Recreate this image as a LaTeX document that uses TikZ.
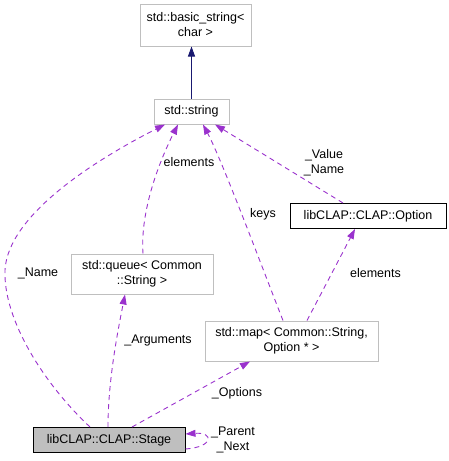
\documentclass[tikz,border=0pt]{standalone}
\usepackage{fontspec}
\setmainfont{Liberation Sans}
\usepackage{tikz}
\usetikzlibrary{positioning, arrows.meta}

\definecolor{grey75}{HTML}{BFBFBF}
\definecolor{orchid}{HTML}{9A32CD}
\definecolor{midnight}{HTML}{191970}

\begin{document}
\begin{tikzpicture}[x=1pt, y=-1pt,
			every node/.style={font=\fontsize{12.5}{15}\selectfont, inner sep=0pt, align=center},
			cls/.style={draw=grey75, line width=1pt, minimum height=25pt},
			doccls/.style={cls, draw=black},
			cur/.style={cls, draw=black, fill=grey75},
			usage/.style={-{Triangle[length=10pt, width=7pt]}, draw=orchid, line width=0.9pt, dash pattern=on 5pt off 4pt},
			inh/.style={-{Triangle[length=10pt, width=7pt]}, draw=midnight, line width=0.9pt},
			lbl/.style={}]
			\useasboundingbox (0,0) rectangle (449,461);
			\node[cls, minimum width=111pt, minimum height=42pt] (basic) at (195.5,25) {std::basic\_string<\\char >};
			\node[cls, minimum width=75pt] (str) at (191.5,111.5) {std::string};
			\node[cls, minimum width=142pt, minimum height=40pt] (queue) at (142,274) {std::queue< Common\\::String >};
			\node[cls, minimum width=173pt, minimum height=40pt] (map) at (291.5,341) {std::map< Common::String,\\Option * >};
			\node[doccls, minimum width=156pt] (opt) at (368,216) {libCLAP::CLAP::Option};
			\node[cur, minimum width=152pt] (stage) at (109,440) {libCLAP::CLAP::Stage};
			% inheritance
			\draw[inh] (str.north) -- (str.north |- basic.south);
			% members
			\draw[usage] ([xshift=-19pt]stage.north) .. controls (45,385) and (3,320) .. (5,270)
				.. controls (8,215) and (95,160) .. ([xshift=-26.5pt]str.south);
			\draw[usage] ([xshift=1pt]queue.north) .. controls (140,210) and (160,160) .. ([xshift=-13.5pt]str.south);
			\draw[usage] ([xshift=-8.5pt]map.north) .. controls (265,275) and (222,160) .. ([xshift=11.5pt]str.south);
			\draw[usage] ([xshift=-25pt]opt.north) -- ([xshift=23.5pt]str.south);
			\draw[usage] ([xshift=-1pt]stage.north) .. controls (108,380) and (118,330) .. ([xshift=-17pt]queue.south);
			\draw[usage] ([xshift=23pt]stage.north) -- ([xshift=-41.5pt]map.south);
			\draw[usage] ([xshift=15.5pt]map.north) -- ([xshift=-13pt]opt.south);
			\draw[usage] ([yshift=4pt]stage.south east) .. controls (214,447) and (214,432) .. ([yshift=6pt]stage.east);
			% labels
			\node[lbl] (lname) at (38,273) {\_Name};
			\node[lbl] (lelem) at (189,162) {elements};
			\node[lbl] (lkeys) at (263,214) {keys};
			\node[lbl] (lvalue) at (324,162.5) {\_Value\\\_Name};
			\node[lbl] (largs) at (158,340) {\_Arguments};
			\node[lbl] (lopts) at (237,393) {\_Options};
			\node[lbl] (lelemb) at (375.5,273) {elements};
			\node[lbl] (lself) at (233,439.5) {\_Parent\\\_Next};
		\end{tikzpicture}
\end{document}
